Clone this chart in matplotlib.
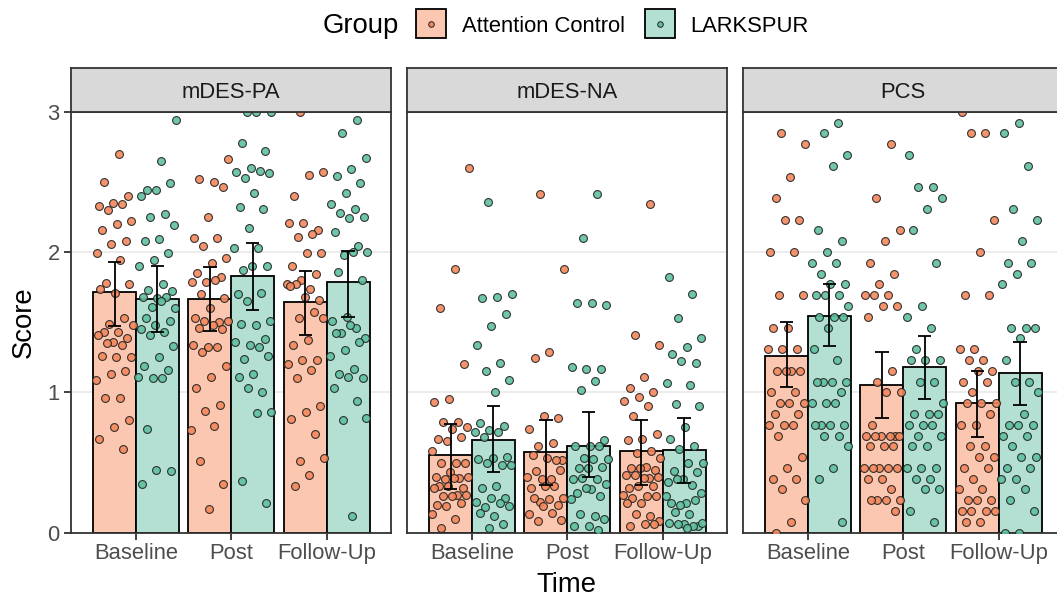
import matplotlib
matplotlib.use("Agg")
import matplotlib.pyplot as plt
from matplotlib.patches import Rectangle
from matplotlib.lines import Line2D
import numpy as np

plt.rcParams['font.family'] = ['Liberation Sans', 'DejaVu Sans']

# ---------------- data ----------------
measures = ["mDES-PA", "mDES-NA", "PCS"]
times = ["Baseline", "Post", "Follow-Up"]
groups = ["Attention Control", "LARKSPUR"]

# bar means and error-bar limits (Baseline, Post, Follow-Up)
pa_ac_mean = [1.713, 1.666, 1.644]
pa_ac_lo = [1.47, 1.435, 1.406]
pa_ac_hi = [1.93, 1.89, 1.867]
pa_lk_mean = [1.666, 1.83, 1.789]
pa_lk_lo = [1.43, 1.59, 1.537]
pa_lk_hi = [1.90, 2.065, 2.01]

na_ac_mean = [0.551, 0.572, 0.58]
na_ac_lo = [0.314, 0.337, 0.342]
na_ac_hi = [0.777, 0.80, 0.805]
na_lk_mean = [0.663, 0.62, 0.587]
na_lk_lo = [0.433, 0.394, 0.354]
na_lk_hi = [0.90, 0.86, 0.82]

pcs_ac_mean = [1.257, 1.055, 0.924]
pcs_ac_lo = [1.035, 0.817, 0.682]
pcs_ac_hi = [1.50, 1.285, 1.15]
pcs_lk_mean = [1.542, 1.18, 1.138]
pcs_lk_lo = [1.328, 0.955, 0.912]
pcs_lk_hi = [1.775, 1.404, 1.359]

# individual participant scores
pa_ac_base = [2.70, 2.50, 2.40, 2.35, 2.33, 2.34, 2.30, 2.22, 2.20, 2.16, 2.08, 2.06, 1.99, 1.94,
              1.78, 1.77, 1.71, 1.74, 1.53, 1.49, 1.48, 1.43, 1.43, 1.39, 1.36, 1.41, 1.34, 1.35,
              1.25, 1.25, 1.26, 1.15, 1.13, 1.09, 0.96, 0.96, 0.80, 0.75, 0.67, 0.60]
pa_lk_base = [2.94, 2.65, 2.44, 2.49, 2.44, 2.40, 2.27, 2.25, 2.19, 2.09, 2.08, 1.99, 1.94, 1.90,
              1.77, 1.73, 1.72, 1.67, 1.68, 1.68, 1.61, 1.60, 1.65, 1.53, 1.51, 1.48, 1.45, 1.43,
              1.41, 1.33, 1.25, 1.19, 1.16, 1.10, 1.11, 1.10, 0.74, 0.44, 0.45, 0.35]
pa_ac_post = [2.66, 2.50, 2.52, 2.46, 2.25, 2.10, 2.10, 2.04, 1.96, 1.92, 1.85, 1.82, 1.79, 1.79,
              1.80, 1.70, 1.67, 1.60, 1.53, 1.50, 1.51, 1.51, 1.48, 1.46, 1.45, 1.32, 1.34, 1.32,
              1.29, 1.19, 1.11, 1.03, 0.91, 0.87, 0.73, 0.76, 0.51, 0.35, 0.17]
pa_lk_post = [3.0, 3.0, 3.0, 2.78, 2.72, 2.60, 2.57, 2.58, 2.53, 2.56, 2.42, 2.32, 2.31, 2.17,
              2.03, 2.03, 1.87, 1.90, 1.90, 1.70, 1.71, 1.65, 1.51, 1.48, 1.49, 1.38, 1.34, 1.36,
              1.32, 1.24, 1.26, 1.13, 1.11, 1.00, 1.03, 0.86, 0.85, 0.37, 0.21]
pa_ac_fu = [3.0, 2.57, 2.55, 2.40, 2.16, 2.21, 2.21, 2.13, 2.11, 1.99, 1.99, 1.90, 1.84, 1.80,
            1.77, 1.74, 1.77, 1.66, 1.68, 1.76, 1.57, 1.53, 1.53, 1.37, 1.34, 1.23, 1.23, 1.20,
            1.16, 1.10, 0.90, 0.86, 0.81, 0.70, 0.51, 0.53, 0.41, 0.33]
pa_lk_fu = [2.94, 2.85, 2.67, 2.59, 2.54, 2.49, 2.42, 2.34, 2.31, 2.28, 2.25, 2.24, 2.14, 2.04,
            1.98, 2.00, 2.00, 1.86, 1.80, 1.54, 1.51, 1.46, 1.42, 1.39, 1.48, 1.42, 1.36, 1.30,
            1.26, 1.17, 1.13, 1.10, 1.11, 1.03, 0.94, 0.80, 0.82, 0.12]

na_ac_base = [2.60, 1.88, 1.60, 1.20, 0.955, 0.93, 0.79, 0.79, 0.75, 0.74, 0.67, 0.68, 0.65, 0.58,
              0.50, 0.50, 0.50, 0.43, 0.40, 0.39, 0.38, 0.40, 0.39, 0.33, 0.32, 0.33, 0.32, 0.27,
              0.26, 0.27, 0.26, 0.20, 0.21, 0.19, 0.13, 0.10, 0.03]
na_lk_base = [2.36, 1.70, 1.68, 1.67, 1.56, 1.47, 1.34, 1.21, 1.15, 1.09, 1.00, 0.78, 0.76, 0.73,
              0.715, 0.715, 0.68, 0.54, 0.53, 0.525, 0.485, 0.50, 0.485, 0.33, 0.32, 0.25, 0.25,
              0.22, 0.21, 0.18, 0.19, 0.12, 0.14, 0.06, 0.03]
na_ac_post = [2.41, 1.88, 1.285, 1.245, 0.82, 0.83, 0.74, 0.64, 0.615, 0.52, 0.53, 0.555, 0.52,
              0.38, 0.40, 0.38, 0.44, 0.45, 0.33, 0.32, 0.33, 0.22, 0.25, 0.24, 0.25, 0.20, 0.19,
              0.13, 0.14, 0.08, 0.09]
na_lk_post = [2.41, 2.10, 1.62, 1.64, 1.64, 1.17, 1.17, 1.18, 1.08, 1.02, 0.66, 0.615, 0.615,
              0.615, 0.53, 0.525, 0.525, 0.46, 0.47, 0.46, 0.38, 0.38, 0.39, 0.35, 0.31, 0.28,
              0.26, 0.32, 0.24, 0.12, 0.13, 0.10, 0.05, 0.05, 0.02]
na_ac_fu = [2.34, 1.41, 1.34, 1.11, 1.03, 1.00, 0.965, 0.94, 0.90, 0.83, 0.70, 0.67, 0.66, 0.58,
            0.57, 0.53, 0.47, 0.46, 0.45, 0.46, 0.41, 0.39, 0.41, 0.40, 0.39, 0.32, 0.33, 0.33,
            0.27, 0.26, 0.25, 0.26, 0.21, 0.21, 0.12, 0.13, 0.08, 0.06, 0.05, 0.06]
na_lk_fu = [1.82, 1.70, 1.53, 1.385, 1.32, 1.27, 1.21, 1.22, 1.07, 1.055, 0.92, 0.90, 0.75, 0.67,
            0.615, 0.60, 0.50, 0.50, 0.44, 0.43, 0.38, 0.36, 0.34, 0.38, 0.28, 0.21, 0.21, 0.235,
            0.20, 0.26, 0.13, 0.15, 0.05, 0.06, 0.07, 0.05, 0.06, 0.07, 0.03]

pcs_ac_base = [2.846, 2.769, 2.538, 2.385, 2.231, 2.231, 2.0, 2.0, 1.692, 1.692, 1.462, 1.462,
               1.308, 1.308, 1.308, 1.154, 1.154, 1.154, 1.154, 1.0, 1.0, 0.923, 0.923, 0.923,
               0.846, 0.846, 0.769, 0.769, 0.769, 0.692, 0.538, 0.462, 0.385, 0.385, 0.308,
               0.231, 0.077, 0.0]
pcs_lk_base = [2.923, 2.846, 2.692, 2.615, 2.154, 2.077, 2.0, 1.923, 1.923, 1.846, 1.769, 1.769,
               1.692, 1.692, 1.692, 1.615, 1.538, 1.538, 1.538, 1.462, 1.308, 1.231, 1.077, 1.077,
               1.077, 1.077, 1.0, 0.923, 0.923, 0.923, 0.769, 0.769, 0.769, 0.769, 0.692, 0.692,
               0.615, 0.462, 0.385, 0.077]
pcs_ac_post = [2.769, 2.385, 2.154, 2.077, 1.923, 1.846, 1.769, 1.692, 1.692, 1.692, 1.615, 1.615,
               1.538, 1.154, 1.077, 1.0, 1.0, 0.769, 0.692, 0.692, 0.692, 0.692, 0.692, 0.692,
               0.615, 0.615, 0.615, 0.462, 0.462, 0.462, 0.462, 0.462, 0.385, 0.385, 0.308,
               0.231, 0.231, 0.231, 0.231, 0.154]
pcs_lk_post = [2.692, 2.462, 2.462, 2.385, 2.308, 2.154, 1.923, 1.615, 1.538, 1.462, 1.308, 1.231,
               1.231, 1.231, 1.077, 1.077, 0.923, 0.846, 0.846, 0.846, 0.769, 0.769, 0.769, 0.692,
               0.692, 0.615, 0.615, 0.462, 0.462, 0.462, 0.385, 0.385, 0.308, 0.308, 0.154, 0.077]
pcs_ac_fu = [3.0, 2.846, 2.846, 2.231, 2.0, 1.692, 1.692, 1.308, 1.308, 1.231, 1.231, 1.154, 1.154,
             1.077, 1.077, 1.0, 0.923, 0.923, 0.923, 0.846, 0.769, 0.769, 0.615, 0.615, 0.538,
             0.538, 0.462, 0.462, 0.385, 0.308, 0.308, 0.231, 0.231, 0.231, 0.154, 0.154, 0.154,
             0.154, 0.077, 0.077]
pcs_lk_fu = [2.923, 2.846, 2.615, 2.308, 2.231, 2.077, 1.923, 1.923, 1.846, 1.769, 1.462, 1.462,
             1.462, 1.385, 1.231, 1.077, 1.077, 1.0, 0.846, 0.769, 0.769, 0.769, 0.692, 0.692,
             0.615, 0.538, 0.538, 0.462, 0.462, 0.385, 0.385, 0.308, 0.231, 0.154, 0.0, 0.0]

# ---------------- assembly ----------------
bar_stats = {
    "mDES-PA": [(pa_ac_mean, pa_ac_lo, pa_ac_hi), (pa_lk_mean, pa_lk_lo, pa_lk_hi)],
    "mDES-NA": [(na_ac_mean, na_ac_lo, na_ac_hi), (na_lk_mean, na_lk_lo, na_lk_hi)],
    "PCS": [(pcs_ac_mean, pcs_ac_lo, pcs_ac_hi), (pcs_lk_mean, pcs_lk_lo, pcs_lk_hi)],
}
point_sets = {
    "mDES-PA": [[pa_ac_base, pa_ac_post, pa_ac_fu], [pa_lk_base, pa_lk_post, pa_lk_fu]],
    "mDES-NA": [[na_ac_base, na_ac_post, na_ac_fu], [na_lk_base, na_lk_post, na_lk_fu]],
    "PCS": [[pcs_ac_base, pcs_ac_post, pcs_ac_fu], [pcs_lk_base, pcs_lk_post, pcs_lk_fu]],
}

pt_colors = ["#F4875C", "#5FC0A0"]
bar_fills = ["#FCC7B1", "#B3E0D2"]

W, H = 1057, 598
fig = plt.figure(figsize=(W / 100, H / 100), dpi=100)


def fx(x):
    return x / W


def fy(y):
    return 1 - y / H


panel_lefts = [70.7, 406.7, 742.7]
panel_w = 320
p_top, p_bot, s_top = 111.7, 532.7, 68.3
dark = "#333333"
dodge = 0.225
bw = 0.45
jit_w = 0.40

for mi, m in enumerate(measures):
    L = panel_lefts[mi]
    ax = fig.add_axes([fx(L), fy(p_bot), panel_w / W, (p_bot - p_top) / H])
    ax.set_xlim(0.315, 3.672)
    ax.set_ylim(0, 3)
    for gy in [1, 2]:
        ax.axhline(gy, color="#EBEBEB", lw=1.3, zorder=0)
    xs = np.arange(1, len(times) + 1)
    for gi in range(2):
        mean, lo, hi = bar_stats[m][gi]
        off = -dodge if gi == 0 else dodge
        ax.bar(xs + off, mean, width=bw, color=bar_fills[gi], edgecolor="black",
               linewidth=1.3, zorder=2)
    for gi in range(2):
        off = -dodge if gi == 0 else dodge
        for ti in range(len(times)):
            vals = np.asarray(point_sets[m][gi][ti])
            n = len(vals)
            k = np.arange(n)
            jit = (((k + 1) * 0.6180339887 + 0.37 * (ti + gi + mi)) % 1.0 - 0.5) * jit_w
            ax.scatter(xs[ti] + off + jit, vals, s=32, color=pt_colors[gi],
                       edgecolors="#222222", linewidths=0.8, alpha=0.9, zorder=3)
    for gi in range(2):
        mean, lo, hi = bar_stats[m][gi]
        off = -dodge if gi == 0 else dodge
        ax.vlines(xs + off, lo, hi, color="black", lw=1.3, zorder=4)
        ax.hlines(lo, xs + off - 0.07, xs + off + 0.07, color="black", lw=1.3, zorder=4)
        ax.hlines(hi, xs + off - 0.07, xs + off + 0.07, color="black", lw=1.3, zorder=4)

    for sp in ax.spines.values():
        sp.set_color(dark)
        sp.set_linewidth(1.3)
    ax.set_xticks(xs)
    ax.set_xticklabels(times)
    ax.tick_params(axis="x", length=5, width=1.3, color=dark, labelcolor="#4D4D4D",
                   labelsize=15.8, pad=2.4)
    if mi == 0:
        ax.set_yticks([0, 1, 2, 3])
        ax.set_yticklabels(["0", "1", "2", "3"])
        ax.tick_params(axis="y", length=5, width=1.3, color=dark, labelcolor="#4D4D4D",
                       labelsize=15.8, pad=2.9)
    else:
        ax.set_yticks([0, 1, 2, 3])
        ax.tick_params(axis="y", length=0, labelleft=False)
    ax.grid(False)

    sax = fig.add_axes([fx(L), fy(p_top), panel_w / W, (p_top - s_top) / H])
    sax.set_facecolor("#D9D9D9")
    sax.set_xticks([])
    sax.set_yticks([])
    for sp in sax.spines.values():
        sp.set_color(dark)
        sp.set_linewidth(1.3)
    fig.text(fx(L + panel_w / 2), fy(98), m, ha="center", va="baseline",
             fontsize=15.8, color="#1A1A1A")

# axis titles
fig.text(fx(24), fy(322), "Score", rotation=90, ha="center", va="center", fontsize=19.8,
         color="black")
fig.text(fx(566), fy(592), "Time", ha="center", va="baseline", fontsize=19.8, color="black")

# legend
fig.text(fx(323), fy(33.3), "Group", ha="left", va="baseline", fontsize=19.8, color="black")
key_x = [416, 645]
lab_x = [462, 690]
for gi in range(2):
    fig.add_artist(Rectangle((fx(key_x[gi]), fy(38)), 30 / W, 29 / H, transform=fig.transFigure,
                             facecolor=bar_fills[gi], edgecolor="black", linewidth=1.3))
    fig.add_artist(Line2D([fx(key_x[gi] + 15)], [fy(23.5)], transform=fig.transFigure,
                          marker="o", markersize=4, markerfacecolor=pt_colors[gi],
                          markeredgecolor="#222222", markeredgewidth=0.7, linestyle="none"))
    fig.text(fx(lab_x[gi]), fy(32.5), groups[gi], ha="left", va="baseline", fontsize=15.8,
             color="black")

fig.savefig("out.png", dpi=100)
